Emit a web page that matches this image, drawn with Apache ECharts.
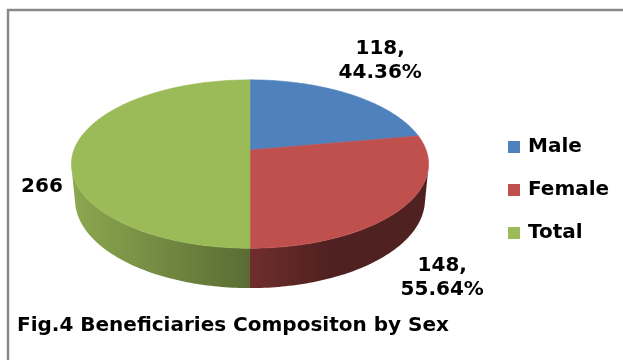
<!DOCTYPE html>
<html>
<head>
<meta charset="utf-8">
<script src="https://cdn.jsdelivr.net/npm/echarts@6/dist/echarts.min.js"></script>
<style>
  html, body { margin: 0; padding: 0; background: #fff; }
  #chart { width: 623px; height: 360px; }
</style>
</head>
<body>
<div id="chart"></div>
<script>
// Beneficiaries by sex
const categories = ['Male', 'Female', 'Total'];
const values = [118, 148, 266];
const colors = ['#4F81BD', '#C0504D', '#9BBB59'];
const titleText = 'Fig.4 Beneficiaries Compositon by Sex';

// Perspective view of the tilted pie disc
const view = {
  cx: 250, cy: 150,     // screen position of the disc centre
  focal: 935,           // focal length
  dist: 5.31,           // camera distance (in disc radii)
  tilt: 27.7,           // tilt of the view, degrees
  thickness: 0.231      // wall height (in disc radii)
};
// Label placement relative to the rim point at each slice's mid angle
const labelOffsets = [[30, -34], [41, 69], [-32, 37]];

const FONT = '"DejaVu Sans", sans-serif';
const sinA = Math.sin(view.tilt * Math.PI / 180);
const cosA = Math.cos(view.tilt * Math.PI / 180);

function proj(u, v, h) {
  const Z = view.dist - v * cosA - h * sinA;
  const Y = -h * cosA + v * sinA;
  return [view.cx + view.focal * u / Z, view.cy + view.focal * Y / Z];
}
// angle in degrees, clockwise from the back of the disc
function rim(phi, h) {
  const r = phi * Math.PI / 180;
  return proj(Math.sin(r), -Math.cos(r), h);
}

// silhouette of the wall as seen from the camera
const horiz = view.dist * cosA;
const phiSil = 180 - Math.acos(1 / horiz) * 180 / Math.PI;
const wallFrom = phiSil, wallTo = 360 - phiSil;

const sum = values.reduce((a, b) => a + b, 0);
const starts = [];
let acc = 0;
values.forEach(v => { starts.push(acc / sum * 360); acc += v; });
const pctBase = values[2];

const pieLeft = rim(270, 0)[0] - 2, pieRight = rim(90, 0)[0] + 2;

function shade(hex, k) {
  const n = parseInt(hex.slice(1), 16);
  const r = Math.round(((n >> 16) & 255) * k);
  const g = Math.round(((n >> 8) & 255) * k);
  const b = Math.round((n & 255) * k);
  return 'rgb(' + r + ',' + g + ',' + b + ')';
}

function arcPoints(a0, a1, h) {
  const pts = [];
  const n = Math.max(2, Math.ceil((a1 - a0) / 1));
  for (let i = 0; i <= n; i++) pts.push(rim(a0 + (a1 - a0) * i / n, h));
  return pts;
}

function makeRender(k) {
  return function (params, api) {
    const a0 = starts[k];
    const a1 = a0 + values[k] / sum * 360;
    const base = colors[k];
    const children = [];

    // outer wall (only the part facing the viewer)
    const w0 = Math.max(a0, wallFrom), w1 = Math.min(a1, wallTo);
    if (w1 > w0) {
      const top = arcPoints(w0, w1, 0);
      const bot = arcPoints(w0, w1, -view.thickness).reverse();
      children.push({
        type: 'polygon',
        z2: 1,
        shape: { points: top.concat(bot) },
        style: {
          fill: {
            type: 'linear', global: true,
            x: pieLeft, y: 0, x2: pieRight, y2: 0,
            colorStops: [
              { offset: 0, color: shade(base, 0.9) },
              { offset: 0.5, color: shade(base, 0.58) },
              { offset: 0.72, color: shade(base, 0.41) },
              { offset: 1, color: shade(base, 0.41) }
            ]
          },
          stroke: null
        }
      });
    }

    // top face
    const face = [proj(0, 0, 0)].concat(arcPoints(a0, a1, 0));
    children.push({
      type: 'polygon',
      z2: 10,
      shape: { points: face },
      style: { fill: base, stroke: base, lineWidth: 0.6 }
    });

    // data label
    const mid = (a0 + a1) / 2;
    const anchor = rim(mid, 0);
    const off = labelOffsets[k];
    const text = k === 2
      ? String(values[k])
      : values[k] + ',\n' + (values[k] / pctBase * 100).toFixed(2) + '%';
    children.push({
      type: 'text',
      z2: 20,
      style: {
        text: text,
        x: anchor[0] + off[0],
        y: anchor[1] + off[1],
        align: 'center',
        verticalAlign: 'middle',
        fontFamily: FONT,
        fontSize: 20,
        fontWeight: 'bold',
        lineHeight: 24,
        fill: '#000'
      }
    });

    return { type: 'group', children: children };
  };
}

const chart = echarts.init(document.getElementById('chart'), null, { renderer: 'canvas' });

chart.setOption({
  animation: false,
  backgroundColor: '#fff',
  title: {
    text: titleText,
    left: 17,
    top: 316,
    padding: 0,
    textStyle: { fontFamily: FONT, fontSize: 20, fontWeight: 'bold', color: '#000' }
  },
  legend: {
    orient: 'vertical',
    left: 503,
    top: 132,
    icon: 'rect',
    itemWidth: 12,
    itemHeight: 12,
    itemGap: 23,
    selectedMode: false,
    data: categories,
    textStyle: { fontFamily: FONT, fontSize: 20, fontWeight: 'bold', color: '#000', padding: [0, 0, 0, 3] }
  },
  graphic: [{
    type: 'rect',
    silent: true,
    shape: { x: 8, y: 10, width: 700, height: 500 },
    style: { fill: null, stroke: '#8a8a8a', lineWidth: 2.5 }
  }],
  series: categories.map((name, k) => ({
    type: 'custom',
    name: name,
    coordinateSystem: 'none',
    itemStyle: { color: colors[k] },
    data: [[values[k]]],
    renderItem: makeRender(k)
  }))
});
</script>
</body>
</html>
